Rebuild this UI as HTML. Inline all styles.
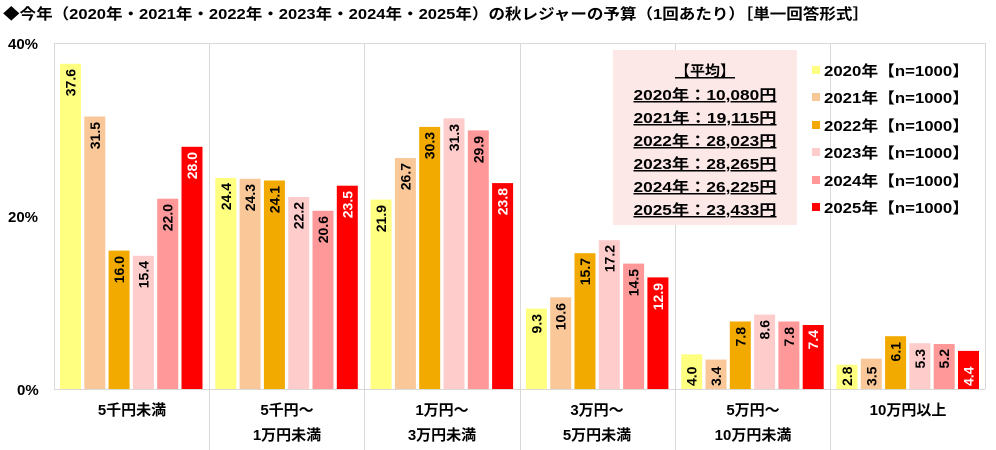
<!DOCTYPE html>
<html><head><meta charset="utf-8"><style>
body{margin:0;background:#fff}
svg{display:block;font-family:"Liberation Sans","Noto Sans CJK JP",sans-serif;font-weight:bold}
.l{font-size:14px;fill:#000}
.w{font-size:14px;fill:#fff}
</style></head><body>
<svg width="996" height="450" viewBox="0 0 996 450" xmlns="http://www.w3.org/2000/svg">
<text x="3" y="19" font-size="15" textLength="866" lengthAdjust="spacingAndGlyphs">◆今年（2020年・2021年・2022年・2023年・2024年・2025年）の秋レジャーの予算（1回あたり）［単一回答形式］</text>
<g stroke="#d9d9d9" stroke-width="1">
<line x1="54" y1="43.5" x2="985" y2="43.5"/>
<line x1="985.5" y1="43" x2="985.5" y2="389"/>
<line x1="209.5" y1="43" x2="209.5" y2="450"/>
<line x1="364.5" y1="43" x2="364.5" y2="450"/>
<line x1="520.5" y1="43" x2="520.5" y2="450"/>
<line x1="675.5" y1="43" x2="675.5" y2="450"/>
<line x1="830.5" y1="43" x2="830.5" y2="450"/>
<line x1="54.5" y1="43" x2="54.5" y2="389"/>
<line x1="54" y1="389.5" x2="985" y2="389.5"/>
</g>
<g font-size="15">
<text x="8" y="49">40%</text>
<text x="8" y="222">20%</text>
<text x="17" y="395">0%</text>
</g>
<g>
<rect x="60" y="63.8" width="21" height="325.2" fill="#FFFF80"/>
<rect x="84.3" y="116.5" width="21" height="272.5" fill="#FAC898"/>
<rect x="108.6" y="250.6" width="21" height="138.4" fill="#F2A900"/>
<rect x="132.9" y="255.8" width="21" height="133.2" fill="#FFCCCC"/>
<rect x="157.2" y="198.7" width="21" height="190.3" fill="#FF9999"/>
<rect x="181.5" y="146.8" width="21" height="242.2" fill="#FF0000"/>
<rect x="215.3" y="177.9" width="21" height="211.1" fill="#FFFF80"/>
<rect x="239.6" y="178.8" width="21" height="210.2" fill="#FAC898"/>
<rect x="263.9" y="180.5" width="21" height="208.5" fill="#F2A900"/>
<rect x="288.2" y="197" width="21" height="192" fill="#FFCCCC"/>
<rect x="312.5" y="210.8" width="21" height="178.2" fill="#FF9999"/>
<rect x="336.8" y="185.7" width="21" height="203.3" fill="#FF0000"/>
<rect x="370.6" y="199.6" width="21" height="189.4" fill="#FFFF80"/>
<rect x="394.9" y="158" width="21" height="231" fill="#FAC898"/>
<rect x="419.2" y="126.9" width="21" height="262.1" fill="#F2A900"/>
<rect x="443.5" y="118.3" width="21" height="270.7" fill="#FFCCCC"/>
<rect x="467.8" y="130.4" width="21" height="258.6" fill="#FF9999"/>
<rect x="492.1" y="183.1" width="21" height="205.9" fill="#FF0000"/>
<rect x="525.9" y="308.6" width="21" height="80.4" fill="#FFFF80"/>
<rect x="550.2" y="297.3" width="21" height="91.7" fill="#FAC898"/>
<rect x="574.5" y="253.2" width="21" height="135.8" fill="#F2A900"/>
<rect x="598.8" y="240.2" width="21" height="148.8" fill="#FFCCCC"/>
<rect x="623.1" y="263.6" width="21" height="125.4" fill="#FF9999"/>
<rect x="647.4" y="277.4" width="21" height="111.6" fill="#FF0000"/>
<rect x="681.2" y="354.4" width="21" height="34.6" fill="#FFFF80"/>
<rect x="705.5" y="359.6" width="21" height="29.4" fill="#FAC898"/>
<rect x="729.8" y="321.5" width="21" height="67.5" fill="#F2A900"/>
<rect x="754.1" y="314.6" width="21" height="74.4" fill="#FFCCCC"/>
<rect x="778.4" y="321.5" width="21" height="67.5" fill="#FF9999"/>
<rect x="802.7" y="325" width="21" height="64" fill="#FF0000"/>
<rect x="836.5" y="364.8" width="21" height="24.2" fill="#FFFF80"/>
<rect x="860.8" y="358.7" width="21" height="30.3" fill="#FAC898"/>
<rect x="885.1" y="336.2" width="21" height="52.8" fill="#F2A900"/>
<rect x="909.4" y="343.2" width="21" height="45.8" fill="#FFCCCC"/>
<rect x="933.7" y="344" width="21" height="45" fill="#FF9999"/>
<rect x="958" y="350.9" width="21" height="38.1" fill="#FF0000"/>
</g>
<g text-anchor="end">
<text class="l" transform="translate(70.5,69) rotate(-90)" y="5">37.6</text>
<text class="l" transform="translate(94.8,122) rotate(-90)" y="5">31.5</text>
<text class="l" transform="translate(119.1,256) rotate(-90)" y="5">16.0</text>
<text class="l" transform="translate(143.4,261) rotate(-90)" y="5">15.4</text>
<text class="l" transform="translate(167.7,204) rotate(-90)" y="5">22.0</text>
<text class="w" transform="translate(192,152) rotate(-90)" y="5">28.0</text>
<text class="l" transform="translate(225.8,183) rotate(-90)" y="5">24.4</text>
<text class="l" transform="translate(250.1,184) rotate(-90)" y="5">24.3</text>
<text class="l" transform="translate(274.4,186) rotate(-90)" y="5">24.1</text>
<text class="l" transform="translate(298.7,202) rotate(-90)" y="5">22.2</text>
<text class="l" transform="translate(323,216) rotate(-90)" y="5">20.6</text>
<text class="w" transform="translate(347.3,191) rotate(-90)" y="5">23.5</text>
<text class="l" transform="translate(381.1,205) rotate(-90)" y="5">21.9</text>
<text class="l" transform="translate(405.4,163) rotate(-90)" y="5">26.7</text>
<text class="l" transform="translate(429.7,132) rotate(-90)" y="5">30.3</text>
<text class="l" transform="translate(454,124) rotate(-90)" y="5">31.3</text>
<text class="l" transform="translate(478.3,136) rotate(-90)" y="5">29.9</text>
<text class="w" transform="translate(502.6,188) rotate(-90)" y="5">23.8</text>
<text class="l" transform="translate(536.4,314) rotate(-90)" y="5">9.3</text>
<text class="l" transform="translate(560.7,303) rotate(-90)" y="5">10.6</text>
<text class="l" transform="translate(585,258) rotate(-90)" y="5">15.7</text>
<text class="l" transform="translate(609.3,245) rotate(-90)" y="5">17.2</text>
<text class="l" transform="translate(633.6,269) rotate(-90)" y="5">14.5</text>
<text class="w" transform="translate(657.9,283) rotate(-90)" y="5">12.9</text>
<text class="l" transform="translate(740.3,327) rotate(-90)" y="5">7.8</text>
<text class="l" transform="translate(764.6,320) rotate(-90)" y="5">8.6</text>
<text class="l" transform="translate(788.9,327) rotate(-90)" y="5">7.8</text>
<text class="w" transform="translate(813.2,330) rotate(-90)" y="5">7.4</text>
<text class="l" transform="translate(895.6,342) rotate(-90)" y="5">6.1</text>
<text class="l" transform="translate(919.9,349) rotate(-90)" y="5">5.3</text>
<text class="l" transform="translate(944.2,349) rotate(-90)" y="5">5.2</text>
</g>
<g text-anchor="start">
<text class="l" transform="translate(691.7,386) rotate(-90)" y="5">4.0</text>
<text class="l" transform="translate(716,386) rotate(-90)" y="5">3.4</text>
<text class="l" transform="translate(847,386) rotate(-90)" y="5">2.8</text>
<text class="l" transform="translate(871.3,386) rotate(-90)" y="5">3.5</text>
<text class="w" transform="translate(968.5,386) rotate(-90)" y="5">4.4</text>
</g>
<g font-size="15" text-anchor="middle">
<text x="132" y="415">5千円未満</text>
<text x="287" y="415">5千円～</text>
<text x="287" y="440">1万円未満</text>
<text x="442" y="415">1万円～</text>
<text x="442" y="440">3万円未満</text>
<text x="597" y="415">3万円～</text>
<text x="597" y="440">5万円未満</text>
<text x="753" y="415">5万円～</text>
<text x="753" y="440">10万円未満</text>
<text x="908" y="415">10万円以上</text>
</g>
<rect x="613" y="50" width="184" height="175" fill="#FDE8E8"/>
<g font-size="15" text-anchor="middle" text-decoration="underline">
<text x="705" y="76">【平均】</text>
<text x="705" y="100" textLength="143" lengthAdjust="spacingAndGlyphs">2020年：10,080円</text>
<text x="705" y="123" textLength="143" lengthAdjust="spacingAndGlyphs">2021年：19,115円</text>
<text x="705" y="146" textLength="143" lengthAdjust="spacingAndGlyphs">2022年：28,023円</text>
<text x="705" y="169" textLength="143" lengthAdjust="spacingAndGlyphs">2023年：28,265円</text>
<text x="705" y="192" textLength="143" lengthAdjust="spacingAndGlyphs">2024年：26,225円</text>
<text x="705" y="215" textLength="143" lengthAdjust="spacingAndGlyphs">2025年：23,433円</text>
</g>
<g font-size="15">
<rect x="812" y="66" width="8" height="8" fill="#FFFF80"/><text x="824" y="76" textLength="145" lengthAdjust="spacingAndGlyphs">2020年【n=1000】</text>
<rect x="812" y="93" width="8" height="8" fill="#FAC898"/><text x="824" y="103" textLength="145" lengthAdjust="spacingAndGlyphs">2021年【n=1000】</text>
<rect x="812" y="121" width="8" height="8" fill="#F2A900"/><text x="824" y="131" textLength="145" lengthAdjust="spacingAndGlyphs">2022年【n=1000】</text>
<rect x="812" y="148" width="8" height="8" fill="#FFCCCC"/><text x="824" y="158" textLength="145" lengthAdjust="spacingAndGlyphs">2023年【n=1000】</text>
<rect x="812" y="176" width="8" height="8" fill="#FF9999"/><text x="824" y="186" textLength="145" lengthAdjust="spacingAndGlyphs">2024年【n=1000】</text>
<rect x="812" y="203" width="8" height="8" fill="#FF0000"/><text x="824" y="213" textLength="145" lengthAdjust="spacingAndGlyphs">2025年【n=1000】</text>
</g>
</svg>
</body></html>
